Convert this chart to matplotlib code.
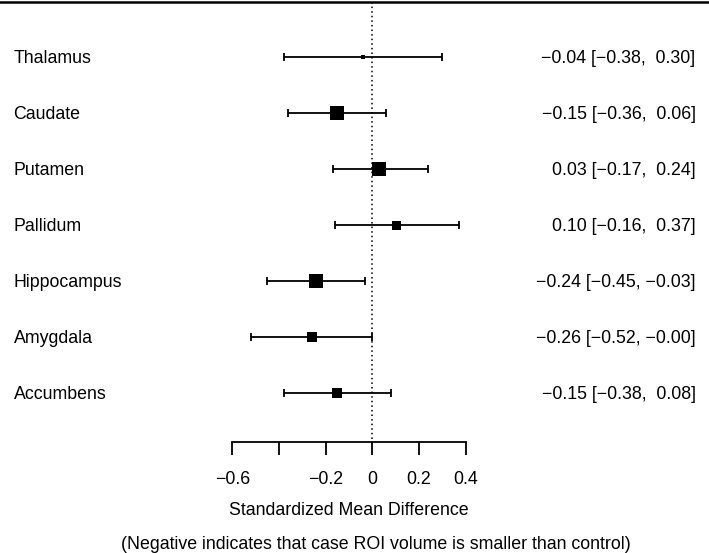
import numpy as np
import matplotlib.pyplot as plt
import matplotlib.transforms as mtransforms

plt.rcParams['font.family'] = ['Liberation Sans', 'DejaVu Sans']

regions = ['Thalamus', 'Caudate', 'Putamen', 'Pallidum', 'Hippocampus', 'Amygdala', 'Accumbens']
est = [-0.04, -0.15, 0.03, 0.10, -0.24, -0.26, -0.15]
lo = [-0.38, -0.36, -0.17, -0.16, -0.45, -0.52, -0.38]
hi = [0.30, 0.06, 0.24, 0.37, -0.03, -0.00, 0.08]
ci_text = ['\u22120.04 [\u22120.38,  0.30]', '\u22120.15 [\u22120.36,  0.06]', '0.03 [\u22120.17,  0.24]',
           '0.10 [\u22120.16,  0.37]', '\u22120.24 [\u22120.45, \u22120.03]', '\u22120.26 [\u22120.52, \u22120.00]',
           '\u22120.15 [\u22120.38,  0.08]']
# relative study weights, shown as box size (px)
box_px = [4.7, 13.3, 13.3, 9.0, 13.3, 9.3, 10.7]

ticks = [-0.6, -0.4, -0.2, 0, 0.2, 0.4]
tick_labels = ['\u22120.6', '', '\u22120.2', '0', '0.2', '0.4']

W, H = 709, 553
fig = plt.figure(figsize=(W / 100, H / 100), dpi=100)
ax = fig.add_axes([0, 0, 1, 1])

# pixel layout: x=0 at 372.3 px, 233.3 px per unit; rows 56 px apart, first at 57.3 px
x0, xs = 372.3, 233.3
y0, ys = 57.3, 56.0
ax.set_xlim(-x0 / xs, (W - x0) / xs)
ax.set_ylim((H - y0) / ys, -y0 / ys)

fs = 12.8
yrow = np.arange(len(regions))

ax.hlines(yrow, lo, hi, color='black', lw=1.3)
cap = 3.8 / ys
ax.vlines(lo, yrow - cap, yrow + cap, color='black', lw=1.3)
ax.vlines(hi, yrow - cap, yrow + cap, color='black', lw=1.3)
for i in range(len(regions)):
    ax.plot(est[i], yrow[i], marker='s', color='black', ms=box_px[i] * 0.72, mew=0, ls='none')

axis_y = (442 - y0) / ys
top_y = (2 - y0) / ys
ax.vlines(0, top_y, axis_y, color='black', lw=1.1, linestyles=(0, (1, 2)))
ax.axhline(top_y, color='black', lw=1.8)

trans = mtransforms.blended_transform_factory(ax.transAxes, ax.transData)
base = 5.8 / ys
for i in range(len(regions)):
    ax.text(13.6 / W, yrow[i] + base, regions[i], transform=trans, ha='left', va='baseline', fontsize=fs)
    ax.text(695.5 / W, yrow[i] + base, ci_text[i], transform=trans, ha='right', va='baseline', fontsize=fs)

for s in ['top', 'left', 'right']:
    ax.spines[s].set_visible(False)
ax.spines['bottom'].set_position(('data', axis_y))
ax.spines['bottom'].set_bounds(-0.6, 0.4)
ax.spines['bottom'].set_linewidth(1.3)
ax.set_xticks(ticks)
ax.set_xticklabels(tick_labels, fontsize=fs)
ax.tick_params(axis='x', direction='out', length=9.4, width=1.3, pad=11.3)
ax.set_yticks([])

ax.text(-0.1, (515 - y0) / ys, 'Standardized Mean Difference', ha='center', va='baseline', fontsize=fs)
ax.text(0.015, (549 - y0) / ys, '(Negative indicates that case ROI volume is smaller than control)',
        ha='center', va='baseline', fontsize=fs)

fig.savefig('out.png', dpi=100)
